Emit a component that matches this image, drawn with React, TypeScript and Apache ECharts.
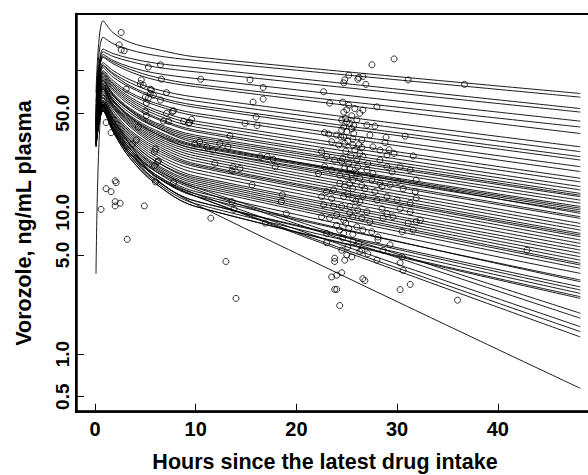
import React, { useEffect, useRef } from "react";
import * as echarts from "echarts";

// Sampling times (h) for each subject's fitted curve
const curveHours = [0.1, 0.8, 1.8, 3.5, 6, 10, 48.2];

// Fitted vorozole concentrations (ng/mL) per subject at curveHours
const subjectCurves: number[][] = [
  [70, 225, 185, 158, 142, 125, 69],
  [60, 172, 155, 140, 128, 118, 65],
  [55, 142, 132, 122, 113, 105, 54],
  [52, 136, 126, 116, 106, 98, 51],
  [50, 130, 118, 106, 96, 88, 44],
  [48, 126, 115, 102, 90, 80, 40],
  [48, 124, 112, 98, 86, 77, 36],
  [46, 114, 100, 86, 74, 65, 29],
  [45, 110, 96, 82, 70, 61, 26.8],
  [45, 108, 94, 78, 66, 57, 24.7],
  [44, 105, 90, 76, 64, 55, 23.4],
  [43, 100, 85, 70, 59, 50, 21],
  [43, 98, 82, 68, 57, 48, 19.4],
  [42, 96, 80, 65, 53, 44, 17.4],
  [42, 94, 78, 63, 51, 42, 16.4],
  [41, 92, 76, 61, 49, 40, 15.2],
  [41, 90, 74, 59, 47, 38, 14.4],
  [40, 88, 72, 57, 46, 37, 13.6],
  [40, 86, 69, 54, 43, 35, 13.2],
  [40, 84, 67, 53, 42, 34, 12.9],
  [39, 82, 66, 52, 41, 33, 12.2],
  [39, 80, 64, 50, 40, 32, 11.6],
  [38, 78, 62, 48, 38, 30, 11.0],
  [38, 77, 61, 47, 37, 29.5, 10.7],
  [38, 76, 60, 46, 36, 29, 10.4],
  [37, 74, 58, 45, 35, 28, 10.1],
  [40, 86, 68, 52, 40, 31, 9.84],
  [38, 80, 62, 47, 36, 28, 9.31],
  [37, 75, 58, 44, 34, 27, 9.07],
  [37, 74, 57, 43, 33, 26, 8.36],
  [36, 72, 56, 42, 32, 25, 7.91],
  [36, 70, 55, 41, 31, 24, 7.5],
  [35, 68, 54, 40, 30, 23, 7.11],
  [35, 67, 52, 38, 29, 22, 6.92],
  [35, 65, 50, 37, 28, 21.5, 6.73],
  [34, 64, 49, 36, 27, 21, 6.38],
  [34, 62, 48, 35, 26, 20, 6.04],
  [33, 61, 47, 34, 25, 19, 5.72],
  [33, 60, 46, 33, 24, 18, 5.42],
  [32, 58, 45, 32, 23, 17.5, 5.14],
  [33, 60, 45, 32, 23, 17, 4.86],
  [32, 58, 44, 31, 22, 16.5, 4.6],
  [32, 57, 43, 30, 21.5, 16, 4.37],
  [31, 56, 43, 30, 21, 15.5, 4.25],
  [31, 56, 42, 29, 20.5, 15, 4.03],
  [31, 55, 41, 28, 19.5, 14, 3.71],
  [30, 54, 40, 27, 18, 13, 3.33],
  [31, 57, 42, 28, 18.5, 13.5, 3.24],
  [30, 53, 39, 26, 17, 12, 2.98],
  [30, 52, 38, 25, 17, 12, 2.83],
  [29, 52, 38, 25, 16.5, 11.5, 2.68],
  [29, 52, 37, 24, 16, 11, 2.54],
  [29, 53, 37, 24, 16, 11, 2.47],
  [30, 55, 40, 28, 20, 15, 1.94],
  [30, 54, 39, 27, 19.5, 14.5, 1.79],
  [30, 56, 38, 26, 18.5, 13.5, 1.56],
  [30, 57, 38, 26, 18, 13, 1.44],
  [30, 58, 38, 26, 18, 13, 1.32],
  [3.7, 60, 45, 30, 17.5, 11.4, 0.573],
];

// Observed concentrations: [hours since intake, ng/mL]
const observations: [number, number][] = [
  [2.6, 186], [2.4, 152], [2.6, 140], [2.9, 138], [5.3, 106], [6.5, 110], [6.6, 87],
  [10.5, 87], [15.4, 86], [16.7, 76], [15.7, 60], [16.7, 63], [16.0, 47], [14.9, 42.5],
  [16.1, 41], [4.6, 86], [4.5, 81], [4.8, 79], [3.1, 74], [5.6, 73], [5.5, 69], [5.8, 67],
  [5.3, 64], [7.1, 70], [5.0, 65], [6.5, 62], [5.1, 59], [7.7, 51.5], [9.6, 45.3],
  [9.3, 42.5], [7.1, 50], [7.3, 44], [5.0, 51.5], [5.1, 48], [1.1, 43], [1.6, 36.5],
  [3.7, 30.3], [4.1, 32.4], [5.9, 26.7], [6.2, 22.8], [5.9, 21.3], [6.0, 16.4], [7.8, 16.2],
  [10.4, 31.5], [11.1, 29], [11.7, 27.5], [12.4, 30.6], [13.2, 29], [13.4, 34.5], [11.9, 22.2],
  [13.7, 21], [14.4, 20.4], [13.6, 19.7], [15.6, 15.6], [16.4, 24.7], [17.1, 24.7], [17.7, 23.7],
  [17.9, 21], [18.5, 11.9], [18.6, 13.3], [19.0, 9.8], [13.6, 11.9], [13.8, 10.5], [11.5, 9.1],
  [16.9, 8.4], [1.1, 14.7], [1.6, 14.0], [2.1, 16.2], [2.0, 11.9], [2.5, 11.6], [2.0, 11.1],
  [0.6, 10.5], [4.9, 11.1], [3.2, 6.45], [13.0, 4.5], [14.0, 2.47],
  [5.5, 74], [7.8, 52], [6.8, 44], [9.4, 43], [8.8, 44], [4.3, 40], [6.0, 28], [6.3, 23],
  [9.9, 30.3], [2.0, 16.7],
  [27.5, 110], [29.7, 121], [25.2, 93], [24.8, 86], [24.7, 82], [26.2, 89.5], [26.6, 91],
  [26.1, 87], [26.9, 80], [31.1, 86], [36.7, 80], [22.7, 71], [23.3, 59], [24.7, 51],
  [25.0, 53], [25.8, 54], [26.3, 50], [26.6, 52.7], [28.0, 55.5], [24.5, 44.8], [25.0, 43.5],
  [25.3, 42.5], [24.7, 40], [25.5, 39], [25.0, 37], [24.5, 38], [25.7, 36], [27.0, 41.3],
  [27.8, 40.6], [22.8, 36.5], [23.2, 35.7], [24.0, 35.1], [24.7, 34], [25.6, 33], [26.5, 32.4],
  [27.3, 35.1], [28.9, 33.8], [28.8, 31], [30.8, 34.5], [23.5, 31.5], [24.2, 29.9], [24.8, 30.7],
  [25.6, 29.9], [26.5, 28.7], [25.8, 27.5], [27.6, 29], [28.3, 27.5], [29.2, 27.7], [29.7, 26],
  [29.0, 25.4], [31.6, 25], [22.5, 26.8], [23.0, 24.8], [23.8, 23.4], [24.5, 22.8], [25.2, 22.1],
  [26.0, 23.4], [26.6, 24.8], [27.1, 22.1], [28.3, 23.4], [25.3, 20.4], [26.1, 21], [27.0, 19.9],
  [27.6, 18.8], [29.0, 21], [29.5, 19.3], [30.3, 21], [31.3, 19.9], [22.8, 21], [23.5, 19.9],
  [22.2, 18.8], [24.3, 18.3], [25.0, 17.8], [25.6, 16.9], [26.3, 17.4], [27.5, 16.9], [28.3, 16],
  [29.3, 15.6], [30.1, 16.5], [25.3, 16], [24.8, 15.2], [25.6, 14.7], [23.7, 14.4], [23.0, 14],
  [26.8, 14.7], [27.8, 14], [28.5, 15.2], [30.6, 14.7], [31.8, 14], [22.5, 12.9], [23.5, 12.5],
  [24.7, 12.9], [25.6, 12.5], [26.3, 11.9], [28.0, 12.2], [29.0, 12.9], [30.0, 12.2], [31.3, 11.6],
  [22.7, 11.3], [23.7, 11], [25.3, 11], [26.1, 10.4], [27.0, 10.1], [28.5, 10.6], [29.0, 9.8],
  [30.3, 10.6], [31.3, 10.1], [22.5, 9.3], [23.3, 9.1], [24.0, 9.6], [24.7, 8.8], [25.6, 9.3],
  [26.5, 9.1], [27.3, 8.6], [28.6, 9.1], [29.6, 9.3], [31.1, 8.4], [31.9, 8.6], [24.0, 8.1],
  [24.3, 7.5], [24.7, 7.1], [25.2, 7.7], [26.0, 7.9], [26.6, 7.5], [23.0, 7.1], [23.0, 6.1],
  [28.1, 6.4], [29.3, 5.9], [30.5, 7.3], [31.6, 7.5], [32.3, 8.8], [24.5, 5.4], [25.0, 5.0],
  [25.5, 4.85], [23.8, 4.75], [23.8, 4.5], [24.8, 4.6], [26.5, 5.4], [26.3, 5.3], [27.1, 5.1],
  [28.0, 4.6], [28.6, 5.4], [30.3, 4.4], [30.6, 3.9], [30.5, 4.85], [31.3, 3.1], [30.3, 2.85],
  [23.5, 3.5], [24.0, 3.6], [24.5, 3.75], [26.6, 3.4], [26.8, 3.3], [23.8, 2.86], [24.0, 2.86],
  [24.3, 2.2], [36.0, 2.4], [42.9, 5.4], [27.5, 7.3], [25.6, 7.0], [28.1, 6.7], [31.9, 16.9],
  [31.9, 12.6],
  [24.6, 60], [25.2, 57], [25.5, 48], [24.9, 46], [26.0, 45], [25.7, 41], [24.4, 34], [25.1, 32],
  [26.2, 30], [24.9, 27], [25.4, 25], [24.6, 24], [26.3, 26], [25.9, 19], [24.8, 20.5],
  [25.5, 18.5], [24.3, 16], [26.5, 15.5], [25.1, 13.5], [25.9, 12], [24.5, 11], [26.6, 13],
  [25.3, 9.9], [24.9, 8.4], [25.6, 6.2], [25.1, 5.7], [24.6, 6.6], [26.2, 6.0],
];

const xTickValues = [0, 10, 20, 30, 40];
const yTickValues = [0.5, 1, 5, 10, 50, 100];
const yLabelValues = [0.5, 1, 5, 10, 50];

const xTitle = "Hours since the latest drug intake";
const yTitle = "Vorozole, ng/mL plasma";

export default function App() {
  const ref = useRef<HTMLDivElement>(null);

  useEffect(() => {
    if (!ref.current) return;
    const chart = echarts.init(ref.current, undefined, { renderer: "svg" });
    const lg = (v: number) => Math.log10(v);
    const font = "Liberation Sans, Arial, Helvetica, sans-serif";

    const lineSeries = subjectCurves.map((c, i) => ({
      type: "line",
      name: "subject" + i,
      data: curveHours.map((t, j) => [t, lg(c[j])]),
      showSymbol: false,
      symbol: "none",
      smooth: 0.35,
      lineStyle: { color: "#000", width: 0.9 },
      silent: true,
      z: 2,
    }));

    chart.setOption({
      animation: false,
      backgroundColor: "#fff",
      grid: {
        left: 76,
        top: 14,
        width: 524,
        height: 397.7,
        show: true,
        borderColor: "#000",
        borderWidth: 2,
        backgroundColor: "transparent",
        containLabel: false,
        outerBoundsMode: "none",
      },
      xAxis: {
        type: "value",
        min: -1.887,
        max: 50.15,
        splitLine: { show: false },
        axisLine: { show: true, onZero: false, lineStyle: { color: "#000", width: 2.5 } },
        axisTick: {
          show: true,
          inside: true,
          length: 8,
          customValues: xTickValues,
          lineStyle: { color: "#000", width: 1 },
        },
        axisLabel: {
          customValues: xTickValues,
          fontSize: 20,
          fontWeight: "bold",
          fontFamily: font,
          color: "#000",
          margin: 7,
        },
      },
      yAxis: {
        type: "value",
        min: lg(0.392),
        max: lg(251),
        splitLine: { show: false },
        axisLine: { show: true, onZero: false, lineStyle: { color: "#000", width: 2.5 } },
        axisTick: {
          show: true,
          inside: true,
          length: 8,
          customValues: yTickValues.map(lg),
          lineStyle: { color: "#000", width: 1 },
        },
        axisLabel: {
          customValues: yLabelValues.map(lg),
          formatter: (v: number) => Math.pow(10, v).toFixed(1),
          rotate: 90,
          fontSize: 19,
          fontWeight: "bold",
          fontFamily: font,
          color: "#000",
          margin: 4,
        },
      },
      graphic: [
        {
          type: "text",
          x: 325,
          y: 462,
          style: {
            text: xTitle,
            font: `bold 21.5px ${font}`,
            fill: "#000",
            textAlign: "center",
            textVerticalAlign: "middle",
            align: "center",
            verticalAlign: "middle",
          },
        },
        {
          type: "text",
          x: 24,
          y: 223,
          rotation: Math.PI / 2,
          style: {
            text: yTitle,
            font: `bold 21.5px ${font}`,
            fill: "#000",
            textAlign: "center",
            textVerticalAlign: "middle",
            align: "center",
            verticalAlign: "middle",
          },
        },
      ],
      series: [
        ...lineSeries,
        {
          type: "scatter",
          name: "observed",
          data: observations.map(([t, v]) => [t, lg(v)]),
          symbol: "circle",
          symbolSize: 6,
          itemStyle: { color: "rgba(0,0,0,0)", borderColor: "#000", borderWidth: 1 },
          silent: true,
          z: 3,
        },
      ],
    });

    return () => chart.dispose();
  }, []);

  return (
    <div
      style={{
        position: "fixed",
        left: 0,
        top: 0,
        width: 588,
        height: 475,
        overflow: "hidden",
        background: "#fff",
      }}
    >
      <div ref={ref} style={{ width: 620, height: 475 }} />
    </div>
  );
}
